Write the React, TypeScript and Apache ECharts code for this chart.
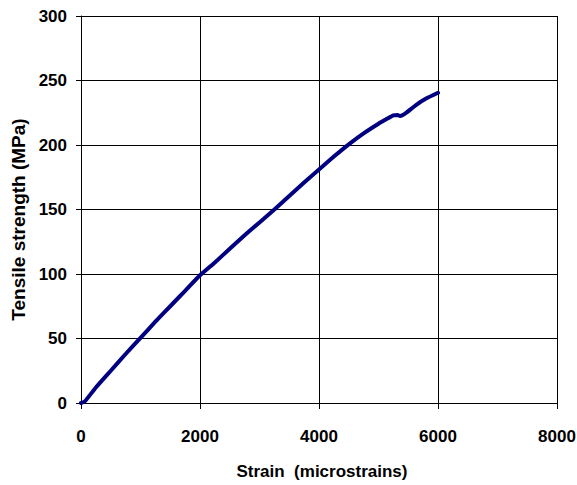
import React, { useEffect, useRef } from "react";
import * as echarts from "echarts";

const strain = [0, 60, 250, 500, 750, 1000, 1250, 1500, 1750, 2000, 2250, 2500, 2750, 3000, 3250, 3500, 3750, 4000, 4250, 4500, 4750, 5000, 5150, 5250, 5320, 5360, 5410, 5480, 5630, 5800, 6000];
const stress = [0, 1, 12, 25, 38, 50.5, 63, 75, 87, 99, 109, 119.5, 130, 140, 150, 160.5, 171, 181, 191, 200.5, 209, 216.5, 220.5, 223, 223.3, 222.5, 223.3, 225.5, 231, 236, 240.5];

const xTitle = "Strain  (microstrains)";
const yTitle = "Tensile strength (MPa)";

export default function App() {
  const ref = useRef<HTMLDivElement>(null);
  useEffect(() => {
    if (!ref.current) return;
    const chart = echarts.init(ref.current, null, { renderer: "svg" });
    const font = "'Liberation Sans', Arial, sans-serif";
    chart.setOption({
      animation: false,
      backgroundColor: "#ffffff",
      grid: { left: 81, top: 16, right: 20, bottom: 82, containLabel: false, outerBoundsMode: "none" },
      xAxis: {
        type: "value",
        min: 0,
        max: 8000,
        interval: 2000,
        name: xTitle,
        nameLocation: "middle",
        nameGap: 60,
        nameTextStyle: { fontFamily: font, fontWeight: "bold", fontSize: 17, color: "#000", padding: [0, 0, 0, 6] },
        axisLine: { show: true, lineStyle: { color: "#000", width: 1 } },
        axisTick: { show: true, length: 6, inside: false, lineStyle: { color: "#000" } },
        axisLabel: { margin: 25, fontFamily: font, fontWeight: "bold", fontSize: 17, color: "#000", formatter: (v: number) => String(v) },
        splitLine: { show: true, lineStyle: { color: "#000", width: 1 } },
      },
      yAxis: {
        type: "value",
        min: 0,
        max: 300,
        interval: 50,
        name: yTitle,
        nameLocation: "middle",
        nameGap: 52,
        nameTextStyle: { fontFamily: font, fontWeight: "bold", fontSize: 19, color: "#000", padding: [0, 20, 0, 0] },
        axisLine: { show: true, lineStyle: { color: "#000", width: 1 } },
        axisTick: { show: true, length: 5, inside: false, lineStyle: { color: "#000" } },
        axisLabel: { margin: 14, fontFamily: font, fontWeight: "bold", fontSize: 17, color: "#000", formatter: (v: number) => String(v) },
        splitLine: { show: true, lineStyle: { color: "#000", width: 1 } },
      },
      series: [
        {
          type: "line",
          data: strain.map((x, i) => [x, stress[i]]),
          showSymbol: false,
          smooth: 0.15,
          lineStyle: { color: "#000080", width: 4, cap: "round", join: "round" },
        },
      ],
    });
    return () => chart.dispose();
  }, []);
  return (
    <div
      ref={ref}
      style={{ position: "absolute", left: 0, top: 0, width: 577, height: 485 }}
    />
  );
}
